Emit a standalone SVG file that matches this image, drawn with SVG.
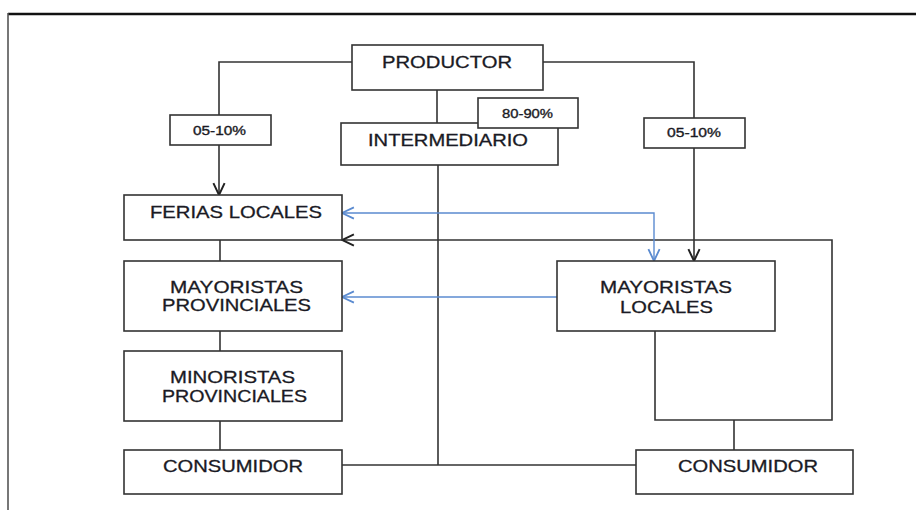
<svg xmlns="http://www.w3.org/2000/svg" width="916" height="510" viewBox="0 0 916 510">
<style>
.box{fill:#fff;stroke:#333;stroke-width:1.6}
.lbl{fill:#fff;stroke:#333;stroke-width:1.6}
.t{font-family:"Liberation Sans",Arial,sans-serif;font-size:17px;fill:#1a1a24;stroke:#1a1a24;stroke-width:0.3}
.s{font-family:"Liberation Sans",Arial,sans-serif;font-size:12.5px;fill:#1a1a24;stroke:#1a1a24;stroke-width:0.35}
.c{fill:none;stroke:#333;stroke-width:1.6}
.b{fill:none;stroke:#5b8bd0;stroke-width:1.4}
</style>
<defs>
<marker id="ak" viewBox="0 0 10 10" refX="9.5" refY="5" markerWidth="14" markerHeight="14" markerUnits="userSpaceOnUse" orient="auto-start-reverse">
<path d="M1,1 L9.5,5 L1,9" fill="none" stroke="#222" stroke-width="1.4"/>
</marker>
<marker id="ab" viewBox="0 0 10 10" refX="9.5" refY="5" markerWidth="14" markerHeight="14" markerUnits="userSpaceOnUse" orient="auto-start-reverse">
<path d="M1,1 L9.5,5 L1,9" fill="none" stroke="#5b8bd0" stroke-width="1.3"/>
</marker>
</defs>
<rect width="916" height="510" fill="#fff"/>
<g id="frame">
<line x1="8" y1="14" x2="916" y2="14" stroke="#111" stroke-width="2.5"/>
<line x1="8" y1="13" x2="8" y2="510" stroke="#555" stroke-width="1.6"/>
</g>
<g id="connectors">
<path class="c" d="M352,62 H219 V195" marker-end="url(#ak)"/>
<path class="c" d="M543,62 H694 V261" marker-end="url(#ak)"/>
<path class="c" d="M437,90 V123"/>
<path class="c" d="M438,165 V465"/>
<path class="c" d="M342,465 H636"/>
<path class="c" d="M220,240 V261"/>
<path class="c" d="M220,331 V351"/>
<path class="c" d="M220,421 V450"/>
<path class="c" d="M655,331 V420 H832 V240 H342" marker-end="url(#ak)"/>
<path class="c" d="M734,420 V450"/>
<path class="b" d="M342,213 H654 V261" marker-start="url(#ab)" marker-end="url(#ab)"/>
<path class="b" d="M557,297 H342" marker-end="url(#ab)"/>
</g>
<g id="productor">
<rect class="box" x="352" y="45" width="191" height="45"/>
<text class="t" x="382" y="68" textLength="130" lengthAdjust="spacingAndGlyphs">PRODUCTOR</text>
</g>
<g id="intermediario">
<rect class="box" x="341" y="123" width="217" height="42"/>
<text class="t" x="368" y="146" textLength="160" lengthAdjust="spacingAndGlyphs">INTERMEDIARIO</text>
</g>
<g id="pct-80-90">
<rect class="lbl" x="478" y="98" width="100" height="30"/>
<text class="s" x="502" y="118" textLength="51" lengthAdjust="spacingAndGlyphs">80-90%</text>
</g>
<g id="pct-left">
<rect class="lbl" x="170" y="115" width="101" height="30"/>
<text class="s" x="193" y="135" textLength="53" lengthAdjust="spacingAndGlyphs">05-10%</text>
</g>
<g id="pct-right">
<rect class="lbl" x="644" y="118" width="101" height="30"/>
<text class="s" x="667" y="137" textLength="54" lengthAdjust="spacingAndGlyphs">05-10%</text>
</g>
<g id="ferias">
<rect class="box" x="124" y="195" width="218" height="45"/>
<text class="t" x="150" y="218" textLength="172" lengthAdjust="spacingAndGlyphs">FERIAS LOCALES</text>
</g>
<g id="mayoristas-provinciales">
<rect class="box" x="124" y="261" width="218" height="70"/>
<text class="t" x="170" y="293" textLength="133" lengthAdjust="spacingAndGlyphs">MAYORISTAS</text>
<text class="t" x="162" y="311" textLength="149" lengthAdjust="spacingAndGlyphs">PROVINCIALES</text>
</g>
<g id="minoristas-provinciales">
<rect class="box" x="124" y="351" width="218" height="70"/>
<text class="t" x="170" y="383" textLength="125" lengthAdjust="spacingAndGlyphs">MINORISTAS</text>
<text class="t" x="162" y="402" textLength="145" lengthAdjust="spacingAndGlyphs">PROVINCIALES</text>
</g>
<g id="consumidor-left">
<rect class="box" x="124" y="450" width="218" height="44"/>
<text class="t" x="163" y="472" textLength="140" lengthAdjust="spacingAndGlyphs">CONSUMIDOR</text>
</g>
<g id="mayoristas-locales">
<rect class="box" x="557" y="261" width="218" height="70"/>
<text class="t" x="600" y="293" textLength="132" lengthAdjust="spacingAndGlyphs">MAYORISTAS</text>
<text class="t" x="620" y="313" textLength="93" lengthAdjust="spacingAndGlyphs">LOCALES</text>
</g>
<g id="consumidor-right">
<rect class="box" x="636" y="450" width="217" height="44"/>
<text class="t" x="678" y="472" textLength="140" lengthAdjust="spacingAndGlyphs">CONSUMIDOR</text>
</g>
</svg>
